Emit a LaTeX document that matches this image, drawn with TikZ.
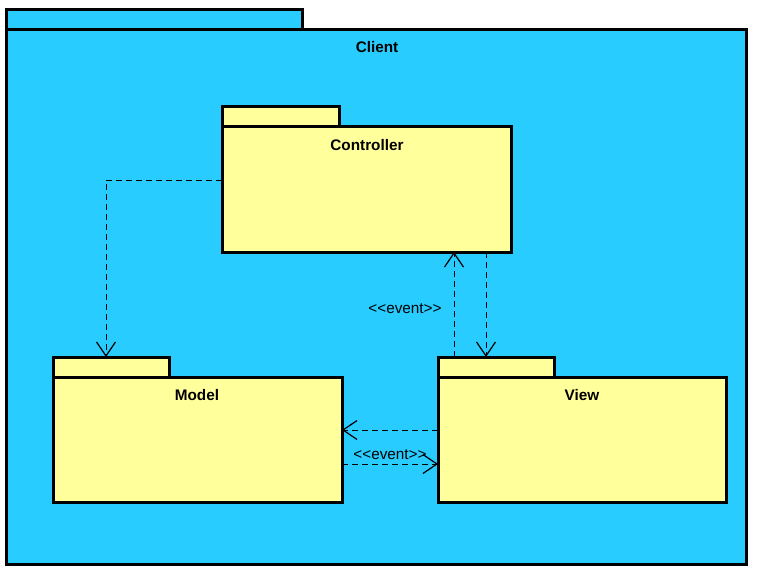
\documentclass[tikz,border=0pt]{standalone}
\usepackage{fontspec}
\setmainfont{Liberation Sans}
\usetikzlibrary{arrows.meta}
\definecolor{clientblue}{RGB}{41,204,255}
\definecolor{pkgyellow}{RGB}{255,255,155}
\begin{document}
\begin{tikzpicture}[x=1pt,y=-1pt,
	pkg/.style={draw,line width=3pt,anchor=north west,inner sep=0pt,outer sep=0pt,fill=pkgyellow},
	dep/.style={line width=1pt,dash pattern=on 6pt off 4pt,-{Straight Barb[length=14pt,width=19pt,line width=1.2pt]}},
	title/.style={font=\fontsize{15.3}{18}\selectfont\bfseries},
	stereo/.style={font=\fontsize{15.3}{18}\selectfont}]
			\useasboundingbox (0,0) rectangle (758,576);
			% client package
			\node[pkg,fill=clientblue,minimum width=296,minimum height=20] (clienttab) at (6,9) {};
			\node[pkg,fill=clientblue,minimum width=740,minimum height=535] (client) at (6,29) {};
			\node[title] (clienttxt) at (377,47) {Client};

			% controller
			\node[pkg,minimum width=117,minimum height=20] (ctrltab) at (222,106) {};
			\node[pkg,minimum width=289,minimum height=126] (ctrl) at (222,126) {};
			\node[title] (ctrltxt) at (367,145) {Controller};

			% model
			\node[pkg,minimum width=116,minimum height=20] (modeltab) at (53,357) {};
			\node[pkg,minimum width=289,minimum height=125] (model) at (53,377) {};
			\node[title] (modeltxt) at (197,395) {Model};

			% view
			\node[pkg,minimum width=116,minimum height=20] (viewtab) at (438,357) {};
			\node[pkg,minimum width=288,minimum height=125] (view) at (438,377) {};
			\node[title] (viewtxt) at (582,395) {View};

			% dependencies
			\draw[dep] ([yshift=-54pt]ctrl.north west) -| ([xshift=53pt]modeltab.north west);
			\coordinate (vc) at ([xshift=16pt]viewtab.north west);
			\draw[dep] (vc) -- (vc |- ctrl.south);
			\coordinate (cv) at ([xshift=264pt]ctrl.south west);
			\draw[dep] (cv) -- (cv |- viewtab.north);
			\coordinate (vm) at ([yshift=-53pt]view.north west);
			\draw[dep] (vm) -- (vm -| model.east);
			\coordinate (mv) at ([yshift=-87pt]model.north east);
			\draw[dep] (mv) -- (mv -| view.west);
			\node[stereo] (evup) at (405,309) {{<}{<}event{>}{>}};
			\node[stereo] (evright) at (390,455) {{<}{<}event{>}{>}};
		\end{tikzpicture}
\end{document}
